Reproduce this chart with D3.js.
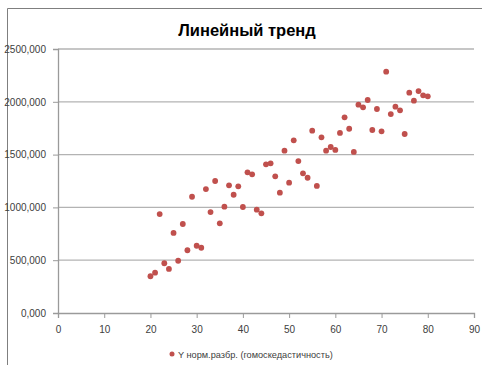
<!DOCTYPE html>
<html><head><meta charset="utf-8">
<script src="https://cdn.jsdelivr.net/npm/d3@7"></script>
<style>body{margin:0;background:#fff}svg{display:block}</style>
</head><body>
<svg id="c" width="482" height="365"></svg>
<script>
const xValues = [20,21,22,23,24,25,26,27,28,29,30,31,32,33,34,35,36,37,38,39,40,41,42,43,44,45,46,47,48,49,50,51,52,53,54,55,56,57,58,59,60,61,62,63,64,65,66,67,68,69,70,71,72,73,74,75,76,77,78,79,80];
const yValues = [348,382,937,471,417,758,495,843,594,1101,637,618,1174,956,1250,849,1007,1209,1120,1200,1004,1332,1313,978,944,1408,1417,1294,1139,1537,1234,1635,1439,1323,1281,1727,1203,1664,1537,1572,1544,1705,1853,1745,1525,1973,1948,2017,1733,1932,1720,2285,1884,1954,1919,1695,2086,2011,2102,2061,2052];
const xTicks = [0,10,20,30,40,50,60,70,80,90];
const yTicks = [0,500,1000,1500,2000,2500];
const title = "Линейный тренд";
const seriesName = "Y норм.разбр. (гомоскедастичность)";

const svg = d3.select("#c");
const font = "'Liberation Sans', Arial, sans-serif";
// outer frame
svg.append("path").attr("d","M7.5,370 L7.5,8.5 L490,8.5").attr("fill","none").attr("stroke","#7f7f7f").attr("stroke-width",1);

const x = d3.scaleLinear().domain([0,90]).range([58,474]);
const y = d3.scaleLinear().domain([0,2500]).range([313,49]);

// gridlines
svg.append("g").selectAll("line").data(yTicks.filter(d=>d>0)).join("line")
  .attr("x1",58).attr("x2",474).attr("y1",d=>y(d)).attr("y2",d=>y(d))
  .attr("stroke","#b3b3b3").attr("stroke-width",1.3);

const fmt = d => d3.format(".3f")(d).replace(".",",");
const yAxis = svg.append("g").attr("transform","translate(58,0)")
  .call(d3.axisLeft(y).tickValues(yTicks).tickSize(5).tickPadding(7).tickFormat(fmt));
const xAxis = svg.append("g").attr("transform","translate(0,313)")
  .call(d3.axisBottom(x).tickValues(xTicks).tickSize(5).tickPadding(6).tickFormat(d3.format("d")));
[yAxis,xAxis].forEach(a=>{
  a.select(".domain").attr("stroke","#9a9a9a").attr("stroke-width",1.3);
  a.selectAll(".tick line").attr("stroke","#9a9a9a");
  a.selectAll("text").attr("fill","#404040").style("font-family",font).style("font-size","10px");
});
xAxis.selectAll("text").attr("dy","0.85em");

// points
svg.append("g").selectAll("circle").data(xValues.map((v,i)=>[v,yValues[i]])).join("circle")
  .attr("cx",d=>x(d[0])).attr("cy",d=>y(d[1])).attr("r",2.9).attr("fill","#c0504d");

// title
svg.append("text").attr("x",247).attr("y",36).attr("text-anchor","middle")
  .style("font-family",font).style("font-size","16.5px").style("font-weight","bold").attr("fill","#000").text(title);

// legend
svg.append("circle").attr("cx",172).attr("cy",354).attr("r",2.5).attr("fill","#c0504d");
svg.append("text").attr("x",178).attr("y",357.5).style("font-family",font).style("font-size","9.2px").attr("fill","#404040").text(seriesName);
</script>
</body></html>
